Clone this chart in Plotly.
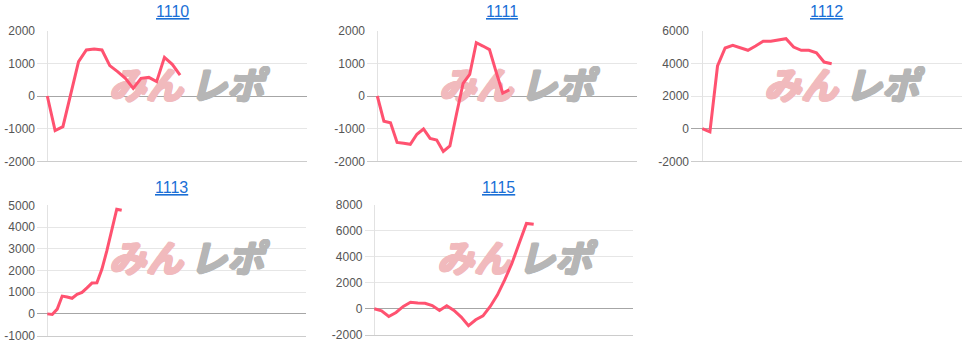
import plotly.graph_objects as go

W, H = 975, 346

# ---------------- data ----------------
titles = ["1110", "1111", "1112", "1113", "1115"]

diff_1110 = [0, -1060, -940, 50, 1050, 1410, 1440, 1410, 930, 745, 540, 235,
             540, 570, 440, 1185, 970, 640]
diff_1111 = [0, -770, -820, -1420, -1450, -1480, -1170, -1010, -1300, -1350,
             -1700, -1530, -550, 390, 660, 1630, 1530, 1420, 740, 90, 190]
diff_1112 = [0, -200, 3840, 4940, 5100, 4940, 4800, 5060, 5350, 5350, 5410,
             5510, 5000, 4800, 4800, 4650, 4080, 3980]
diff_1113 = [0, -30, 220, 820, 780, 720, 900, 990, 1200, 1420, 1430, 2050,
             2900, 3850, 4820, 4770]
diff_1115 = [0, -150, -590, -280, 180, 500, 450, 430, 250, -130, 230, -130,
             -640, -1300, -840, -540, 180, 1070, 2220, 3500, 5040, 6570, 6500]

yticks_1110 = [-2000, -1000, 0, 1000, 2000]
yticks_1111 = [-2000, -1000, 0, 1000, 2000]
yticks_1112 = [-2000, 0, 2000, 4000, 6000]
yticks_1113 = [-1000, 0, 1000, 2000, 3000, 4000, 5000]
yticks_1115 = [-2000, 0, 2000, 4000, 6000, 8000]

series = [diff_1110, diff_1111, diff_1112, diff_1113, diff_1115]
yticks = [yticks_1110, yticks_1111, yticks_1112, yticks_1113, yticks_1115]

# ---------------- layout geometry (pixels) ----------------
panels = [
    dict(left=37, right=307, x0=47.3, step=7.81, top=30.7, bottom=161.3, ty=12, wm_x=187, wm_y=90),
    dict(left=367, right=637, x0=377.3, step=6.60, top=30.7, bottom=161.3, ty=12, wm_x=517, wm_y=90),
    dict(left=691, right=962, x0=702.3, step=7.61, top=30.7, bottom=161.3, ty=12, wm_x=842, wm_y=90),
    dict(left=37, right=306, x0=47.3, step=4.96, top=205.3, bottom=335.6, ty=187, wm_x=187, wm_y=263),
    dict(left=364.5, right=633.3, x0=374.3, step=7.245, top=204.8, bottom=334.8, ty=187, wm_x=515, wm_y=263),
]

LINE = "#ff5270"
GRID = "#e6e6e6"
ZERO = "#a6a6a6"
TICKC = "#555555"
LINK = "#1a6fd6"
FONT = "Liberation Sans, Arial, sans-serif"
JP = "Noto Sans CJK JP"
PINK = "#f1babd"
GRAYWM = "#b6b6b6"


def thick(c):
    return (f"1px 0 0 {c}, -1px 0 0 {c}, 0 1px 0 {c}, 0 -1px 0 {c}, "
            f"1px 1px 0 {c}, -1px -1px 0 {c}, 1px -1px 0 {c}, -1px 1px 0 {c}")


fig = go.Figure()
layout = dict(
    template="none",
    width=W, height=H, margin=dict(l=0, r=0, t=0, b=0, pad=0, autoexpand=False),
    paper_bgcolor="white", plot_bgcolor="white", showlegend=False,
    hovermode=False, annotations=[],
)

for i, (name, vals, yt, p) in enumerate(zip(titles, series, yticks, panels)):
    n = i + 1
    xa = "x" if n == 1 else f"x{n}"
    ya = "y" if n == 1 else f"y{n}"
    xkey = "xaxis" if n == 1 else f"xaxis{n}"
    ykey = "yaxis" if n == 1 else f"yaxis{n}"

    xmin = -(p["x0"] - p["left"]) / p["step"]
    xmax = (p["right"] - p["x0"]) / p["step"]
    ymin, ymax = yt[0], yt[-1]

    def px_to_x(px):
        return (px - p["x0"]) / p["step"]

    def py_to_y(py):
        return ymax - (py - p["top"]) / (p["bottom"] - p["top"]) * (ymax - ymin)

    # watermark (drawn under the line)
    fig.add_trace(go.Scatter(
        x=[px_to_x(p["wm_x"] - 41)], y=[py_to_y(p["wm_y"])], mode="text",
        text=["みん"], textposition="middle center", cliponaxis=False,
        textfont=dict(family=JP, size=37, color=PINK, weight="bold",
                      style="italic", shadow=thick(PINK)),
        xaxis=xa, yaxis=ya, hoverinfo="skip",
    ))
    fig.add_trace(go.Scatter(
        x=[px_to_x(p["wm_x"] + 40)], y=[py_to_y(p["wm_y"])], mode="text",
        text=["レポ"], textposition="middle center", cliponaxis=False,
        textfont=dict(family=JP, size=37, color=GRAYWM, weight="bold",
                      style="italic", shadow=thick(GRAYWM)),
        xaxis=xa, yaxis=ya, hoverinfo="skip",
    ))

    fig.add_trace(go.Scatter(
        x=list(range(len(vals))), y=vals, mode="lines",
        line=dict(color=LINE, width=3),
        xaxis=xa, yaxis=ya, hoverinfo="skip",
    ))

    layout[xkey] = dict(
        domain=[p["left"] / W, p["right"] / W], anchor=ya, automargin=False,
        range=[xmin, xmax], showgrid=False, showticklabels=False, ticks="",
        zeroline=True, zerolinecolor="#e2e2e2", zerolinewidth=1,
        showline=True, linecolor="#cccccc", linewidth=1, fixedrange=True,
    )
    layout[ykey] = dict(
        domain=[1 - p["bottom"] / H, 1 - p["top"] / H], anchor=xa, automargin=False,
        range=[ymin, ymax], tickmode="array", tickvals=yt, ticktext=[str(v) for v in yt],
        showgrid=True, gridcolor=GRID, gridwidth=1, showline=False,
        zeroline=True, zerolinecolor=ZERO, zerolinewidth=1,
        tickfont=dict(family=FONT, size=12, color=TICKC),
        ticks="", ticklabelstandoff=1, fixedrange=True,
    )
    layout["annotations"].append(dict(
        text=f"<u>{name}</u>", xref="paper", yref="paper",
        x=(p["left"] + p["right"]) / 2 / W, y=1 - p["ty"] / H,
        xanchor="center", yanchor="middle", showarrow=False,
        font=dict(family=FONT, size=16, color=LINK),
    ))

fig.update_layout(**layout)
fig.write_html("out.html")
